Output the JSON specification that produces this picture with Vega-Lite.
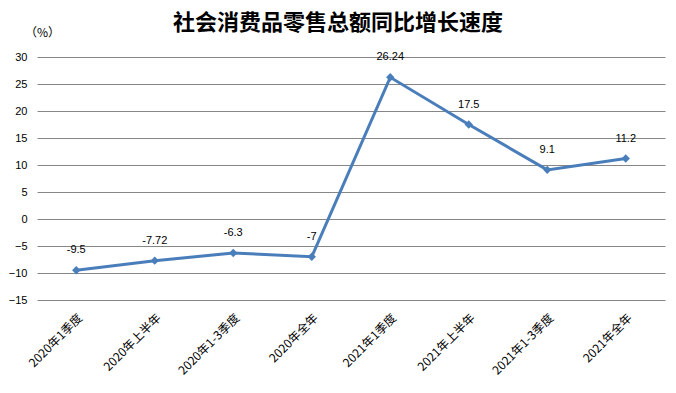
{
  "$schema": "https://vega.github.io/schema/vega-lite/v6.json",
  "width": 628,
  "height": 243,
  "autosize": {"type": "none"},
  "padding": {"left": 37, "top": 57, "right": 11, "bottom": 93},
  "background": "white",
  "title": {
    "text": "社会消费品零售总额同比增长速度",
    "font": "Noto Sans CJK SC",
    "fontSize": 22,
    "fontWeight": "bold",
    "color": "black",
    "anchor": "middle",
    "frame": "group",
    "dx": -13,
    "offset": -9
  },
  "config": {
    "view": {"stroke": null},
    "axis": {"labelFont": "Liberation Sans", "labelColor": "black"}
  },
  "data": {
    "values": [
      {"period": "2020年1季度", "value": -9.5, "label": "-9.5"},
      {"period": "2020年上半年", "value": -7.72, "label": "-7.72"},
      {"period": "2020年1-3季度", "value": -6.3, "label": "-6.3"},
      {"period": "2020年全年", "value": -7, "label": "-7"},
      {"period": "2021年1季度", "value": 26.24, "label": "26.24"},
      {"period": "2021年上半年", "value": 17.5, "label": "17.5"},
      {"period": "2021年1-3季度", "value": 9.1, "label": "9.1"},
      {"period": "2021年全年", "value": 11.2, "label": "11.2"}
    ]
  },
  "encoding": {
    "x": {
      "field": "period",
      "type": "nominal",
      "sort": null,
      "scale": {"paddingInner": 0, "paddingOuter": 0},
      "axis": {
        "title": null,
        "labelAngle": -45,
        "labelFont": "Noto Sans CJK SC",
        "labelFontSize": 12,
        "labelPadding": 12,
        "ticks": false,
        "domain": false,
        "grid": false
      }
    },
    "y": {
      "field": "value",
      "type": "quantitative",
      "scale": {"domain": [-15, 30], "nice": false, "zero": false},
      "axis": {
        "values": [-15, -10, -5, 0, 5, 10, 15, 20, 25, 30],
        "title": "（%）",
        "titleAngle": 0,
        "titleX": 5,
        "titleY": -25,
        "titleAlign": "center",
        "titleBaseline": "middle",
        "titleFont": "Noto Sans CJK SC",
        "titleFontSize": 12,
        "titleFontWeight": "normal",
        "titleColor": "black",
        "labelFontSize": 11,
        "labelPadding": 10,
        "ticks": false,
        "domain": false,
        "grid": true,
        "gridColor": "#868686",
        "gridWidth": 1,
        "gridOpacity": 1
      }
    }
  },
  "layer": [
    {
      "mark": {"type": "line", "color": "#4A7EBB", "strokeWidth": 3}
    },
    {
      "mark": {"type": "point", "shape": "diamond", "filled": true, "color": "#4A7EBB", "size": 70, "opacity": 1}
    },
    {
      "mark": {"type": "text", "dy": -20, "font": "Liberation Sans", "fontSize": 11, "color": "black", "baseline": "middle"},
      "encoding": {"text": {"field": "label"}}
    }
  ]
}
